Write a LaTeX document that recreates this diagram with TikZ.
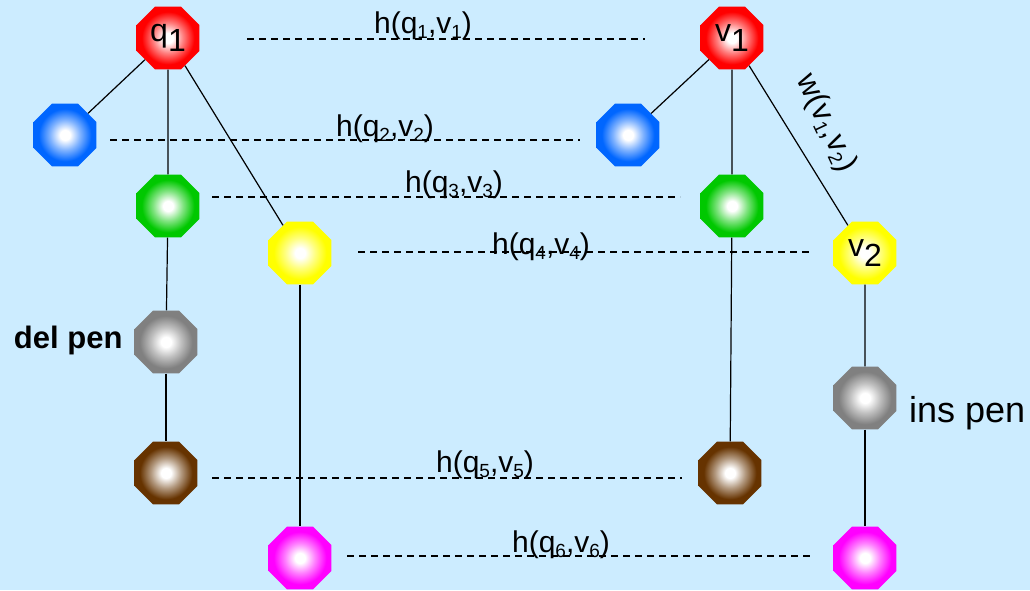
\documentclass[tikz,border=0pt]{standalone}
\usepackage{fontspec}
\setmainfont{Liberation Sans}
\usetikzlibrary{shapes.geometric}

\definecolor{bgblue}{RGB}{204,236,255}
\definecolor{gemred}{RGB}{255,0,0}
\definecolor{gemblue}{RGB}{0,102,255}
\definecolor{gemgreen}{RGB}{0,200,0}
\definecolor{gemyellow}{RGB}{255,255,0}
\definecolor{gemgray}{RGB}{128,128,128}
\definecolor{gembrown}{RGB}{102,51,0}
\definecolor{gemmagenta}{RGB}{255,0,255}
\colorlet{gemcol}{gemred}

% white glow in the middle of each gem
\pgfdeclareradialshading[gemcol]{gemglow}{\pgfpoint{0bp}{0bp}}{%
    color(0bp)=(white); color(4bp)=(white);
    color(12bp)=(gemcol!50!white); color(21bp)=(gemcol); color(50bp)=(gemcol)}

\newcommand{\gemsub}[1]{\raisebox{-0.3em}{#1}}
\newcommand{\labsub}[1]{\raisebox{-5pt}{\fontsize{19}{19}\selectfont #1}}

\begin{document}
\begin{tikzpicture}[x=1pt,y=-1pt,
    gem/.style={regular polygon,regular polygon sides=8,minimum size=68pt,
        inner sep=0pt,/utils/exec={\colorlet{gemcol}{#1}},shading=gemglow,
        font=\fontsize{32}{32}\selectfont},
    link/.style={line width=1.2pt},
    hline/.style={dash pattern=on 7pt off 5pt,line width=1.2pt},
    hlab/.style={anchor=base,inner sep=0pt,font=\fontsize{30}{30}\selectfont}]

    % Background
    \fill[bgblue] (0,0) rectangle (1030,590);
    \useasboundingbox (0,0) rectangle (1030,590);

    % Query side
    \node[gem=gemred] (qred) at (168,38) {q\gemsub{1}};
    \node[gem=gemblue] (qblue) at (65,135) {};
    \node[gem=gemgreen] (qgreen) at (168,206) {};
    \node[gem=gemyellow] (qyellow) at (300,253) {};
    \node[gem=gemgray] (qgray) at (166,342) {};
    \node[gem=gembrown] (qbrown) at (166,473) {};
    \node[gem=gemmagenta] (qmagenta) at (300,558) {};

    % Value side
    \node[gem=gemred] (vred) at (732,38) {v\gemsub{1}};
    \node[gem=gemblue] (vblue) at (628,135) {};
    \node[gem=gemgreen] (vgreen) at (732,206) {};
    \node[gem=gemyellow] (vyellow) at (865,253) {v\gemsub{2}};
    \node[gem=gemgray] (vgray) at (865,398) {};
    \node[gem=gembrown] (vbrown) at (730,473) {};
    \node[gem=gemmagenta] (vmagenta) at (865,558) {};

    % Tree edges
    \draw[link] (qred) -- (qblue);
    \draw[link] (qred) -- (qgreen);
    \draw[link] (qred) -- (qyellow);
    \draw[link] (qgreen) -- (qgray);
    \draw[link] (qgray) -- (qbrown);
    \draw[link] (qyellow) -- (qmagenta);
    \draw[link] (vred) -- (vblue);
    \draw[link] (vred) -- (vgreen);
    \draw[link] (vred) -- (vyellow);
    \draw[link] (vgreen) -- (vbrown);
    \draw[link] (vyellow) -- (vgray);
    \draw[link] (vgray) -- (vmagenta);

    % Penalties
    \node[anchor=east,font=\fontsize{31}{31}\selectfont\bfseries] (delpen) at (126,340) {del pen};
    \node[anchor=base west,inner sep=0pt,font=\fontsize{36}{36}\selectfont] (inspen) at (909,422) {ins pen};
    \node[rotate=-65,inner sep=0pt,font=\fontsize{31}{31}\selectfont] (wlab) at (826,123) {w(v\labsub{1},v\labsub{2})};

    % Dashed matches
    \coordinate (a1) at (247,39);  \coordinate (b1) at (645,39);
    \coordinate (a2) at (110,140); \coordinate (b2) at (580,140);
    \coordinate (a3) at (212,197); \coordinate (b3) at (680,197);
    \coordinate (a4) at (358,252); \coordinate (b4) at (812,252);
    \coordinate (a5) at (212,478); \coordinate (b5) at (682,478);
    \coordinate (a6) at (347,556); \coordinate (b6) at (812,556);
    \draw[hline] (a1) -- (b1);
    \draw[hline] (a2) -- (b2);
    \draw[hline] (a3) -- (b3);
    \draw[hline] (a4) -- (b4);
    \draw[hline] (a5) -- (b5);
    \draw[hline] (a6) -- (b6);
    \node[hlab] (h1) at (423,33) {h(q\labsub{1},v\labsub{1})};
    \node[hlab] (h2) at (385,136) {h(q\labsub{2},v\labsub{2})};
    \node[hlab] (h3) at (454,192) {h(q\labsub{3},v\labsub{3})};
    \node[hlab] (h4) at (541,254) {h(q\labsub{4},v\labsub{4})};
    \node[hlab] (h5) at (485,472) {h(q\labsub{5},v\labsub{5})};
    \node[hlab] (h6) at (561,552) {h(q\labsub{6},v\labsub{6})};
\end{tikzpicture}
\end{document}
